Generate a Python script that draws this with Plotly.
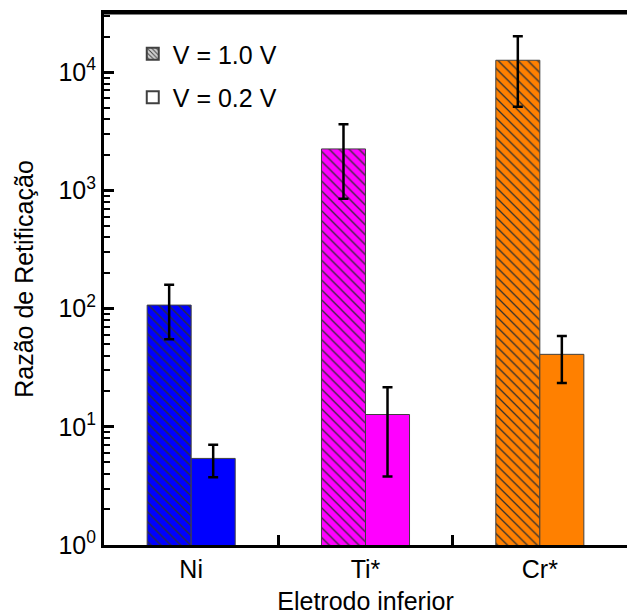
import plotly.graph_objects as go

# Rectification ratio per bottom electrode, at two bias voltages
electrodes = ["Ni", "Ti*", "Cr*"]
ratio_1v0 = [107, 2240, 12600]
err_1v0 = [52, 1390, 7500]
ratio_0v2 = [5.4, 12.7, 41]
err_0v2 = [1.65, 8.9, 17.5]
colors = ["#0000FF", "#FF00FF", "#FF8000"]

# Log-axis ticks
major_vals = [1, 10, 100, 1000, 10000]
major_text = ["10<sup>0</sup>", "10<sup>1</sup>", "10<sup>2</sup>",
              "10<sup>3</sup>", "10<sup>4</sup>"]
minor_vals = [m * 10 ** k for k in range(5) for m in range(2, 10) if m * 10 ** k < 31000]

FONT = "Arial, Liberation Sans, sans-serif"
FS = 25
edge = dict(color="#404040", width=1)
errstyle = dict(type="data", visible=True, color="black", thickness=2.5, width=5)

fig = go.Figure()

# Hatched bars (1.0 V): one trace per electrode so each keeps its own fill
for name, val, err, col in zip(electrodes, ratio_1v0, err_1v0, colors):
    fig.add_trace(go.Bar(
        x=[name], y=[val],
        error_y=dict(array=[err], **errstyle),
        marker=dict(color=col, line=edge,
                    pattern=dict(shape="\\", fgcolor="#303030", fgopacity=1,
                                 size=7, solidity=0.18, fillmode="overlay")),
        showlegend=False, offsetgroup="a",
    ))

# Solid bars (0.2 V)
fig.add_trace(go.Bar(
    x=electrodes, y=ratio_0v2,
    error_y=dict(array=err_0v2, **errstyle),
    marker=dict(color=colors, line=edge),
    showlegend=False, offsetgroup="b",
))

# Legend keys (neutral swatches)
fig.add_trace(go.Bar(
    x=[None], y=[None], name="V = 1.0 V", legendgroup="g1",
    marker=dict(color="#d0d0d0", line=dict(color="#404040", width=1),
                pattern=dict(shape="\\", fgcolor="#404040", fgopacity=1,
                             size=4, solidity=0.3, fillmode="overlay")),
))
fig.add_trace(go.Bar(
    x=[None], y=[None], name="V = 0.2 V", legendgroup="g2",
    marker=dict(color="white", line=dict(color="#404040", width=1)),
))

# Carrier for the minor-tick axis
fig.add_trace(go.Scatter(x=[None], y=[None], yaxis="y2", showlegend=False,
                         hoverinfo="skip"))

fig.update_layout(
    width=627, height=615,
    margin=dict(l=104, r=0, t=13, b=70),
    paper_bgcolor="white", plot_bgcolor="white",
    font=dict(family=FONT, size=FS, color="black"),
    barmode="group", bargap=0.495, bargroupgap=0,
    legend=dict(x=0.055, y=0.966, xanchor="left", yanchor="top",
                bgcolor="rgba(0,0,0,0)", font=dict(size=FS),
                traceorder="grouped", tracegroupgap=8,
                itemsizing="constant"),
    xaxis=dict(
        range=[-0.5, 2.5], tickson="boundaries",
        ticks="inside", ticklen=10, tickwidth=2.5, tickcolor="black",
        showline=True, linewidth=3, linecolor="black", mirror=True,
        showgrid=False,
        title=dict(text="Eletrodo inferior", font=dict(size=FS), standoff=12),
        tickfont=dict(size=FS),
    ),
    yaxis=dict(
        type="log", range=[0, 4.5],
        tickmode="array", tickvals=major_vals, ticktext=major_text,
        ticks="inside", ticklen=10, tickwidth=2.5, tickcolor="black",
        showline=True, linewidth=3, linecolor="black", mirror=False,
        showgrid=False, zeroline=False,
        title=dict(text="Razão de Retificação", font=dict(size=FS), standoff=18),
        tickfont=dict(size=FS),
    ),
    yaxis2=dict(
        type="log", range=[0, 4.5], overlaying="y", side="left",
        tickmode="array", tickvals=minor_vals, showticklabels=False,
        ticks="inside", ticklen=6, tickwidth=2, tickcolor="black",
        showline=False, showgrid=False, zeroline=False,
    ),
    shapes=[dict(type="line", xref="paper", yref="paper",
                 x0=0, x1=1, y0=1, y1=1,
                 line=dict(color="black", width=3))],
)

fig.write_html("out.html")
